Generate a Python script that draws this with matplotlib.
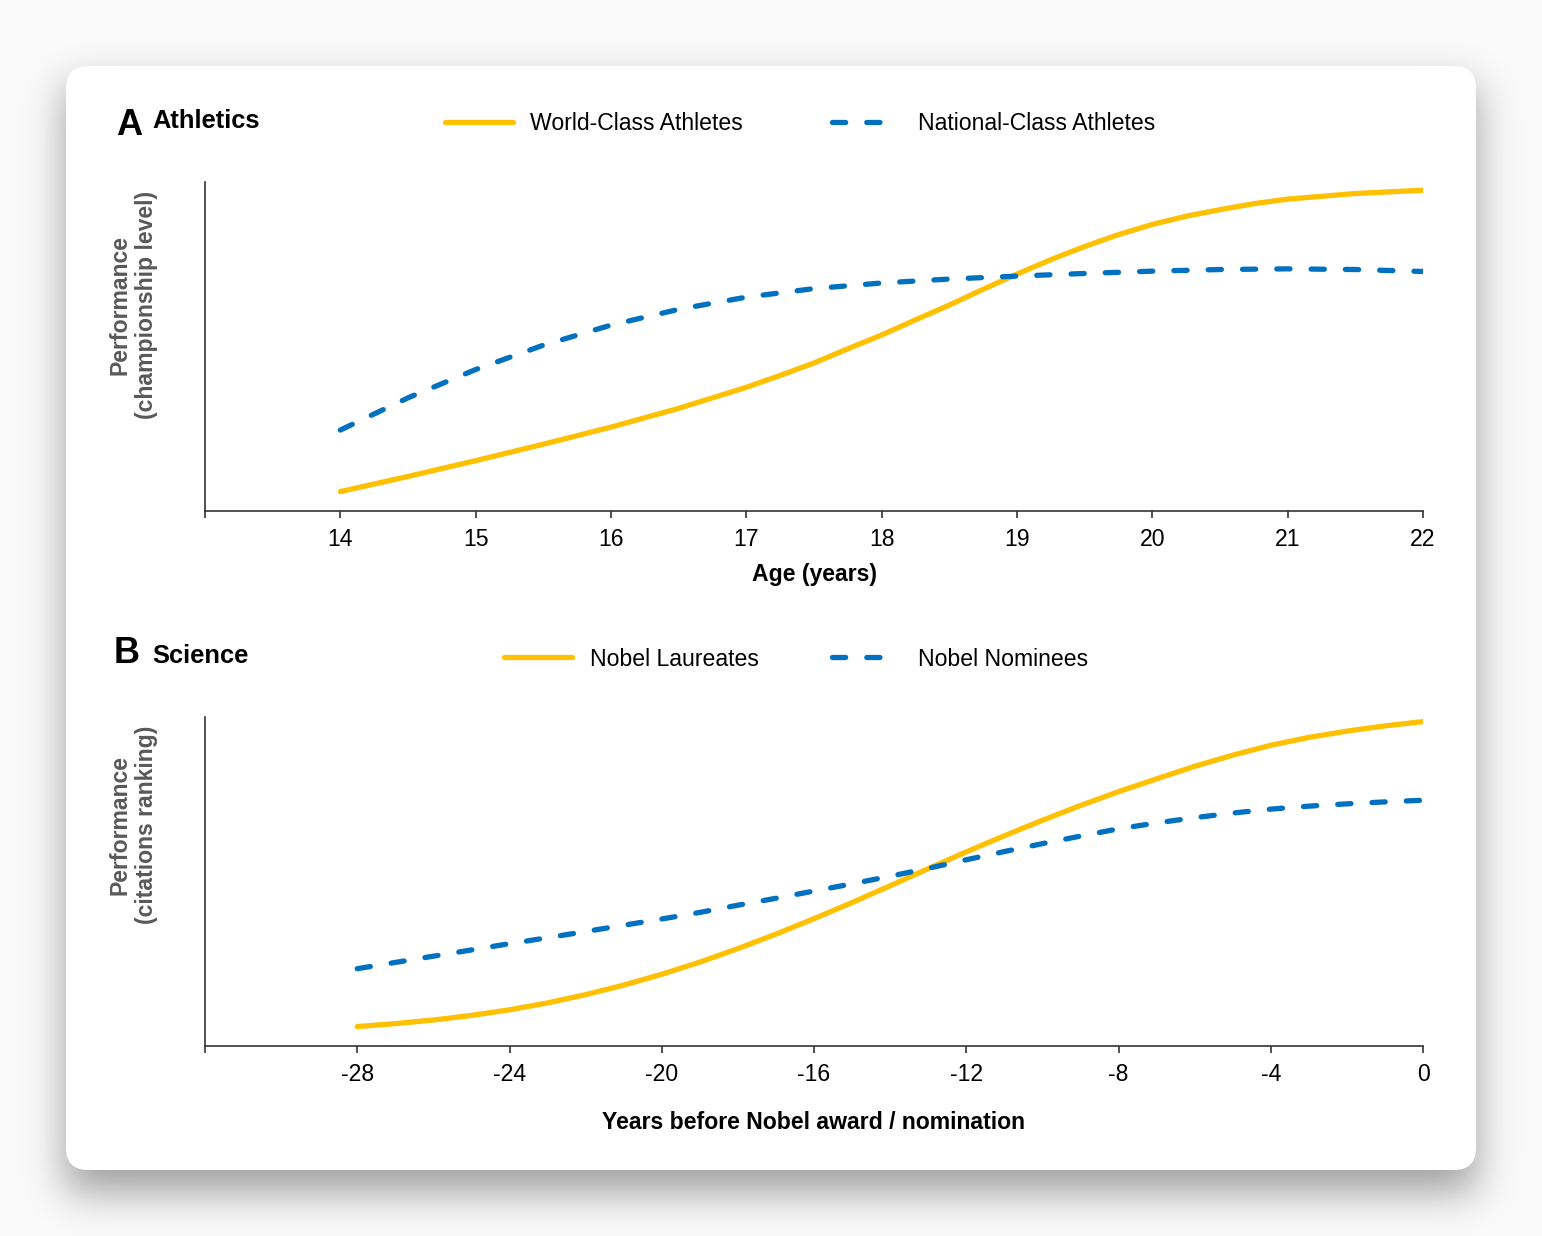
import math
import numpy as np
import matplotlib
matplotlib.use('Agg')
import matplotlib.pyplot as plt
from matplotlib.patches import FancyBboxPatch

plt.rcParams['font.family'] = ['Liberation Sans', 'DejaVu Sans']

# panel A: athletics
ages_world = [14, 14.5, 15, 15.5, 16, 16.5, 17, 17.25, 17.5, 17.75, 18, 18.25, 18.5, 18.75,
              19, 19.25, 19.5, 19.75, 20, 20.25, 20.5, 20.75, 21, 21.5, 22]
world_class = [5.9, 10.5, 15.3, 20.3, 25.5, 31.2, 37.6, 41.2, 45.0, 49.3, 53.5, 58.1, 62.6, 67.4,
               72.0, 76.4, 80.4, 84.0, 87.1, 89.6, 91.6, 93.4, 94.8, 96.5, 97.5]
ages_national = [14, 14.5, 15, 15.5, 16, 16.5, 17, 17.5, 18, 18.5, 19, 19.5, 20, 20.5, 21, 21.5, 22]
national_class = [24.6, 34.4, 43.0, 50.4, 56.5, 61.3, 65.0, 67.6, 69.3, 70.5, 71.4, 72.2, 72.9,
                  73.4, 73.6, 73.4, 72.8]
age_ticks = [13, 14, 15, 16, 17, 18, 19, 20, 21, 22]
age_labels = ['', '14', '15', '16', '17', '18', '19', '20', '21', '22']

# panel B: science
years_before = [-28, -27, -26, -25, -24, -23, -22, -21, -20, -19, -18, -17, -16, -15, -14,
                -13, -12, -11, -10, -9, -8, -7, -6, -5, -4, -3, -2, -1, 0]
laureates = [5.9, 6.8, 7.9, 9.3, 11.0, 13.1, 15.6, 18.5, 21.8, 25.5, 29.6, 34.0, 38.7, 43.6, 48.7,
             53.9, 59.0, 63.9, 68.6, 73.1, 77.3, 81.2, 85.0, 88.4, 91.4, 93.8, 95.7, 97.3, 98.6]
nominees = [23.5, 25.4, 27.3, 29.2, 31.1, 32.9, 34.8, 36.7, 38.6, 40.6, 42.8, 44.9, 47.1, 49.3, 51.6,
            54.0, 56.6, 59.1, 61.5, 63.8, 66.0, 67.8, 69.4, 70.8, 72.0, 72.9, 73.6, 74.2, 74.7]
year_ticks = [-32, -28, -24, -20, -16, -12, -8, -4, 0]
year_labels = ['', '-28', '-24', '-20', '-16', '-12', '-8', '-4', '0']

YELLOW = '#FFC000'
BLUE = '#0070C0'
AXIS = '#333333'
FS = 16.6

W, H = 1542, 1236
fig = plt.figure(figsize=(W / 100, H / 100), dpi=100, facecolor='#f9f9f9')

# background layer in pixel coordinates: soft drop shadow + rounded card
bg = fig.add_axes([0, 0, 1, 1], zorder=0)
erf = np.vectorize(math.erf)
sig = 20 * math.sqrt(2)
xs = np.arange(W) + 0.5
ys = np.arange(H) + 0.5
fx = 0.5 * (erf((xs - 66) / sig) - erf((xs - 1476) / sig))
fy = 0.5 * (erf((ys - 86) / sig) - erf((ys - 1192) / sig))
shadow = np.zeros((H, W, 4))
shadow[..., 3] = 0.36 * np.outer(fy, fx)
bg.imshow(shadow, extent=(0, W, H, 0), interpolation='nearest', aspect='auto', zorder=0)
bg.add_patch(FancyBboxPatch((66, 66), 1410, 1104, boxstyle='round,pad=0,rounding_size=22',
                            fc='white', ec='none', zorder=1))
bg.set_xlim(0, W)
bg.set_ylim(H, 0)
bg.axis('off')

bg.text(116, 135, 'A', fontsize=26, fontweight='bold', ha='left', va='baseline', zorder=2)
bg.text(152, 128, 'Athletics', fontsize=18.4, fontweight='bold', ha='left', va='baseline', zorder=2)
bg.text(114, 663, 'B', fontsize=26, fontweight='bold', ha='left', va='baseline', zorder=2)
bg.text(152, 663, 'Science', fontsize=18.4, fontweight='bold', ha='left', va='baseline', zorder=2)

bg.text(133, 305, 'Performance\n(championship level)', rotation=90, ha='center', va='center',
        multialignment='center', fontsize=FS, fontweight='bold', color='#595959',
        linespacing=1.2, zorder=2)
bg.text(133, 825, 'Performance\n(citations ranking)', rotation=90, ha='center', va='center',
        multialignment='center', fontsize=FS, fontweight='bold', color='#595959',
        linespacing=1.2, zorder=2)


def style_axes(ax, ticks, labels, xlabel, labelpad):
    ax.patch.set_alpha(0)
    for side in ['top', 'right']:
        ax.spines[side].set_visible(False)
    for side in ['left', 'bottom']:
        ax.spines[side].set_color(AXIS)
        ax.spines[side].set_linewidth(1.2)
    ax.set_yticks([])
    ax.set_ylim(0, 100)
    ax.set_xticks(ticks)
    ax.set_xticklabels(labels)
    ax.set_xlim(ticks[0], ticks[-1])
    ax.tick_params(axis='x', length=5, width=1.2, color=AXIS, pad=7, labelsize=FS)
    ax.set_xlabel(xlabel, fontsize=FS, fontweight='bold', labelpad=labelpad)


line_kw = dict(lw=3.8, solid_capstyle='round', solid_joinstyle='round')
dash_kw = dict(lw=3.8, dashes=(2.5, 4.0), dash_capstyle='round', dash_joinstyle='round')
leg_kw = dict(loc='center', ncol=2, frameon=False, fontsize=FS, handlelength=2.95,
              handletextpad=0.75)

axA = fig.add_axes([205 / W, 1 - 511 / H, (1423 - 205) / W, (511 - 182) / H], zorder=2)
la1, = axA.plot(ages_world, world_class, color=YELLOW, label='World-Class Athletes', **line_kw)
la2, = axA.plot(ages_national, national_class, color=BLUE, label='National-Class Athletes', **dash_kw)
style_axes(axA, age_ticks, age_labels, 'Age (years)', 9)
fig.legend(handles=[la1, la2], bbox_to_anchor=(800 / W, 1 - 124 / H), columnspacing=3.87, **leg_kw)

axB = fig.add_axes([205 / W, 1 - 1046 / H, (1423 - 205) / W, (1046 - 717) / H], zorder=2)
lb1, = axB.plot(years_before, laureates, color=YELLOW, label='Nobel Laureates', **line_kw)
lb2, = axB.plot(years_before, nominees, color=BLUE, label='Nobel Nominees', **dash_kw)
style_axes(axB, year_ticks, year_labels, 'Years before Nobel award / nomination', 18)
fig.legend(handles=[lb1, lb2], bbox_to_anchor=(796 / W, 1 - 659 / H), columnspacing=3.2, **leg_kw)

fig.savefig('out.png', dpi=100, facecolor=fig.get_facecolor())
